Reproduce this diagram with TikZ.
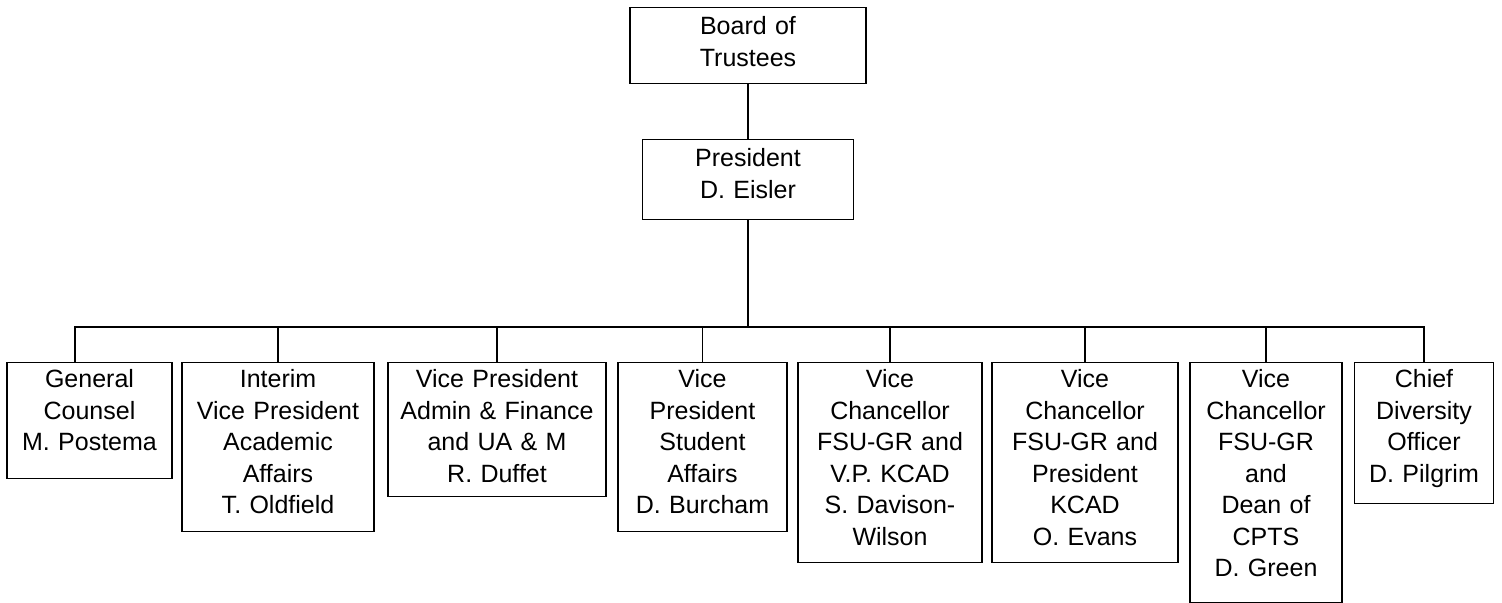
\documentclass[tikz,border=0pt]{standalone}
\usepackage{fontspec}
\setmainfont{Liberation Sans}

\begin{document}
\begin{tikzpicture}[x=0.5pt,y=-0.5pt,line width=0.6pt,
	box/.style 2 args={
		draw,
		anchor=north,
		align=center,
		inner sep=0pt,
		font=\fontsize{12.5}{15.75}\selectfont,
		text height=12.5pt,
		text width=#1pt,
		text depth=#2pt,
	},
	head/.style 2 args={box={#1}{#2}, text height=13.5pt},
]
	\useasboundingbox (0,0) rectangle (1502,603);
	% top of the chart
	\node[head={118}{24.5}] (board) at (748,7) {Board of\\Trustees};
	\node[head={105.5}{26.5}] (pres) at (748,139) {President\\D. Eisler};
	\coordinate (bar) at (748,327);
	% second row
	\node[box={82.5}{45.5}] (gc) at (89.5,362) {General\\Counsel\\M. Postema};
	\node[box={96}{72}] (interim) at (278,362) {Interim\\Vice President\\Academic\\Affairs\\T. Oldfield};
	\node[box={109}{54.5}] (admin) at (497,362) {Vice President\\Admin \& Finance\\and UA \& M\\R. Duffet};
	\node[box={84.5}{72}] (student) at (702.5,362) {Vice\\President\\Student\\Affairs\\D. Burcham};
	\node[box={92}{87.5}] (vca) at (890,362) {Vice\\Chancellor\\FSU-GR and\\V.P. KCAD\\S. Davison-\\Wilson};
	\node[box={93}{87.5}] (vcb) at (1085,362) {Vice\\Chancellor\\FSU-GR and\\President\\KCAD\\O. Evans};
	\node[box={76}{107.5}] (vcc) at (1266,362) {Vice\\Chancellor\\FSU-GR\\and\\Dean of\\CPTS\\D. Green};
	\node[box={69.5}{58}] (chief) at (1424,362) {Chief\\Diversity\\Officer\\D. Pilgrim};
	% connectors
	\draw (board) -- (pres);
	\draw (pres) -- (bar);
	\draw ([xshift=-7.25pt]gc.north) |- (bar);
	\foreach \n in {interim,admin,student,vca,vcb,vcc,chief}{
		\draw (\n.north) |- (bar);
	}
\end{tikzpicture}
\end{document}
